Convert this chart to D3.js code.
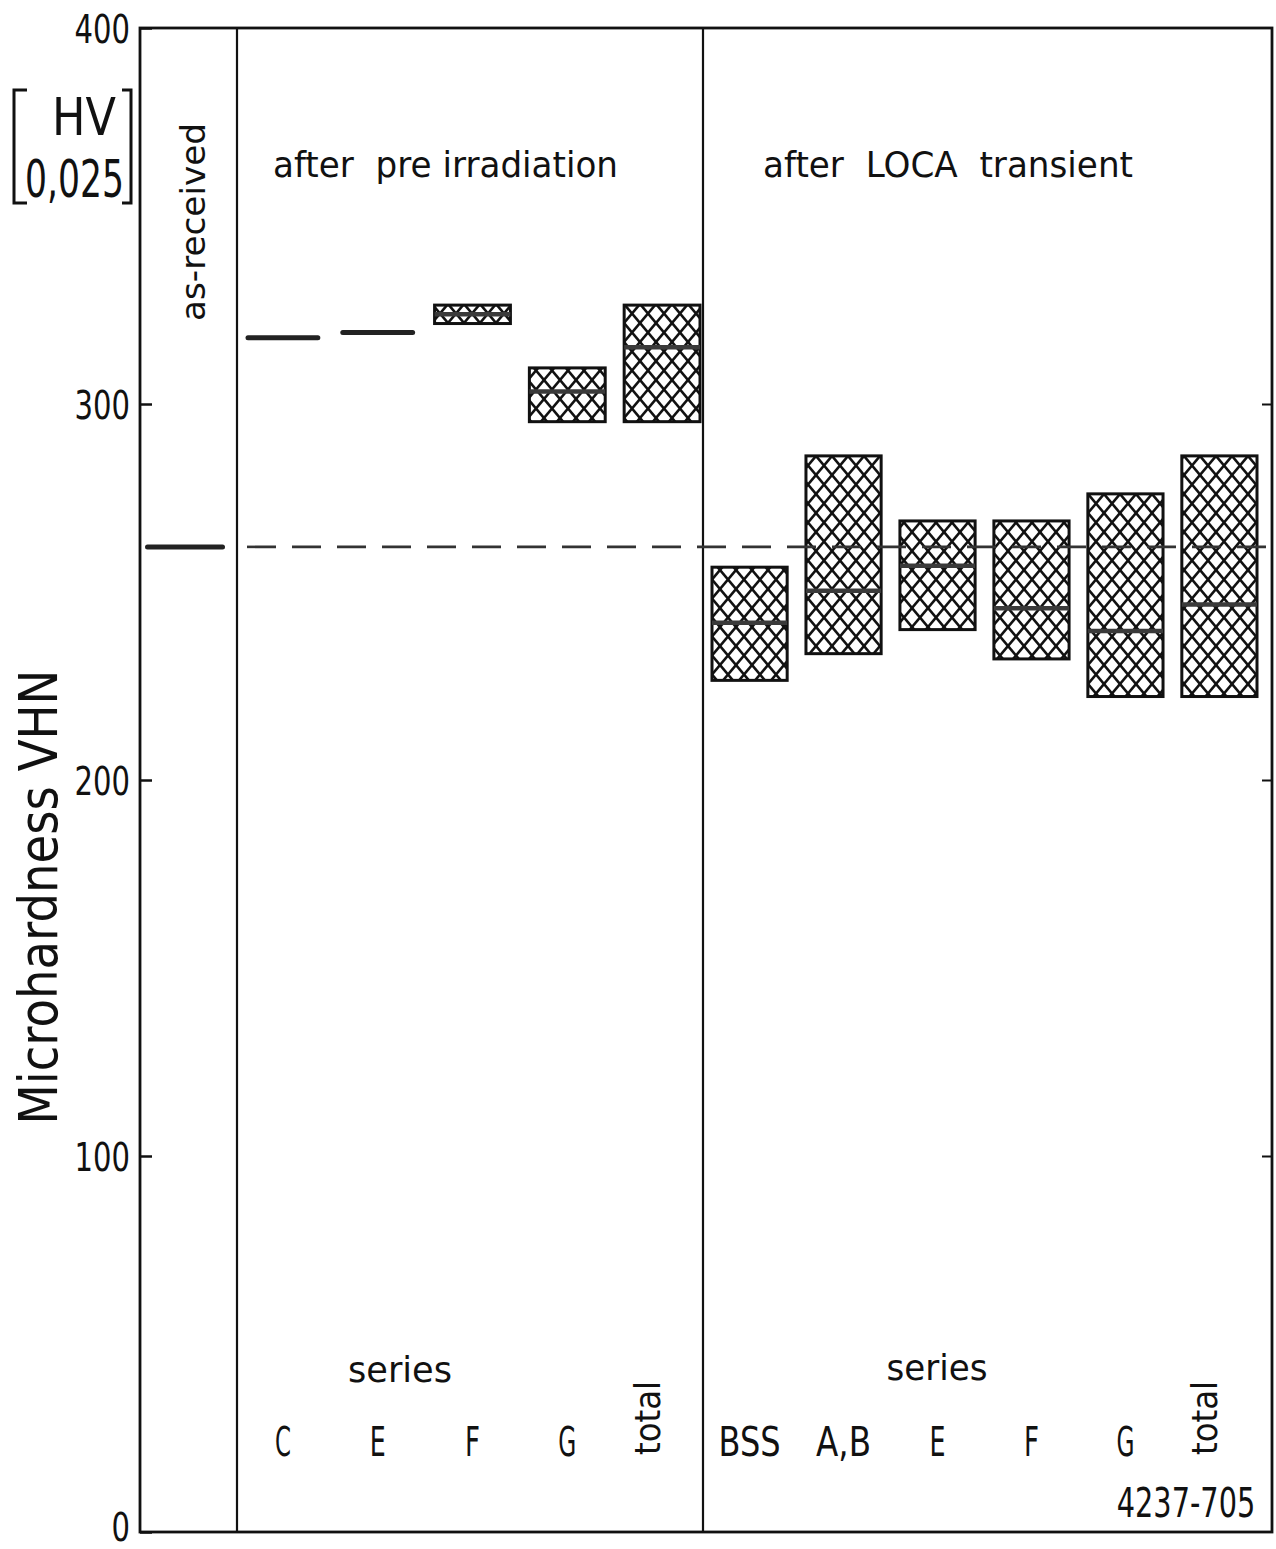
<!DOCTYPE html>
<html>
<head>
<meta charset="utf-8">
<script src="https://cdn.jsdelivr.net/npm/d3@7"></script>
<style>
  html, body { margin: 0; padding: 0; background: #fff; }
  svg text { font-family: "DejaVu Sans", "Liberation Sans", sans-serif; fill: #111; white-space: pre; }
</style>
</head>
<body>
<svg id="chart" width="1276" height="1549"></svg>
<script>
// Microhardness HV 0,025 of cladding: as-received, after pre-irradiation, after LOCA transient
const asReceivedValue = 262;

const preCategories = ["C", "E", "F", "G", "total"];
const preMin  = [317.6, 319.0, 321.4, 295.3, 295.3];
const preMax  = [317.6, 319.0, 326.3, 309.6, 326.3];
const preMean = [317.6, 319.0, 323.9, 303.3, 315.1];

const locaCategories = ["BSS", "A,B", "E", "F", "G", "total"];
const locaMin  = [226.5, 233.6, 240.0, 232.2, 222.2, 222.2];
const locaMax  = [256.6, 286.2, 268.9, 268.9, 276.1, 286.2];
const locaMean = [241.8, 250.3, 257.0, 245.7, 239.6, 246.7];

const yTicks = [0, 100, 200, 300, 400];
const innerTicks = [100, 200, 300];

const svg = d3.select("#chart");

// Frame geometry
const frameL = 140, frameR = 1272, frameT = 28, frameB = 1532;
const div1 = 237, div2 = 703;

const y = d3.scaleLinear().domain([0, 400]).range([frameB, frameT]);

const xAs = d3.scaleBand().domain(["as-received"]).range([140, 230]).paddingOuter(0.1);
const xPre = d3.scaleBand().domain(preCategories).range([245, 700]).paddingInner(0.2).paddingOuter(0);
const xLoca = d3.scaleBand().domain(locaCategories).range([712, 1257]).paddingInner(0.2).paddingOuter(0);

// Crosshatch pattern
const defs = svg.append("defs");
const pw = 16, ph = 19;
const pat = defs.append("pattern")
  .attr("id", "hatch")
  .attr("patternUnits", "userSpaceOnUse")
  .attr("width", pw).attr("height", ph);
pat.append("rect").attr("width", pw).attr("height", ph).attr("fill", "#fff");
[[0, 0, pw, ph], [pw, 0, 0, ph], [-pw, 0, pw, 2 * ph], [pw, -ph, -pw, ph], [0, -ph, 2 * pw, ph], [2 * pw, 0, 0, 2 * ph]]
  .forEach(([x1, y1, x2, y2]) => {
    pat.append("line")
      .attr("x1", x1).attr("y1", y1).attr("x2", x2).attr("y2", y2)
      .attr("stroke", "#111").attr("stroke-width", 2.6);
  });

// Frame and panel dividers
svg.append("rect")
  .attr("x", frameL).attr("y", frameT)
  .attr("width", frameR - frameL).attr("height", frameB - frameT)
  .attr("fill", "none").attr("stroke", "#111").attr("stroke-width", 2.8);
[div1, div2].forEach(xv => {
  svg.append("line")
    .attr("x1", xv).attr("x2", xv).attr("y1", frameT).attr("y2", frameB)
    .attr("stroke", "#111").attr("stroke-width", 2.2);
});

// Left axis: inward ticks, labels outside
const yAxisL = svg.append("g")
  .attr("transform", `translate(${frameL},0)`)
  .call(d3.axisLeft(y).tickValues(yTicks).tickSize(-12).tickPadding(10).tickFormat(d3.format("d")));
yAxisL.select(".domain").remove();
yAxisL.selectAll(".tick line").attr("stroke", "#111").attr("stroke-width", 2.5);
yAxisL.selectAll(".tick text")
  .attr("font-size", 39)
  .attr("font-family", "DejaVu Sans")
  .attr("fill", "#111")
  .attr("dy", d => d === 0 ? "0.22em" : "0.36em")
  .attr("textLength", d => String(d).length * 18.5)
  .attr("lengthAdjust", "spacingAndGlyphs");

// Right axis: inward ticks only
const yAxisR = svg.append("g")
  .attr("transform", `translate(${frameR},0)`)
  .call(d3.axisRight(y).tickValues(innerTicks).tickSize(-10).tickFormat(""));
yAxisR.select(".domain").remove();
yAxisR.selectAll(".tick line").attr("stroke", "#111").attr("stroke-width", 2);

// Boxes for a panel
function drawPanel(cats, mins, maxs, means, x) {
  const g = svg.append("g");
  cats.forEach((c, i) => {
    const x0 = x(c), w = x.bandwidth();
    if (maxs[i] - mins[i] < 0.5) {
      g.append("line")
        .attr("x1", x0 + 3).attr("x2", x0 + w - 3)
        .attr("y1", y(means[i])).attr("y2", y(means[i]))
        .attr("stroke", "#222").attr("stroke-width", 5)
        .attr("stroke-linecap", "round");
      return;
    }
    g.append("rect")
      .attr("x", x0).attr("y", y(maxs[i]))
      .attr("width", w).attr("height", y(mins[i]) - y(maxs[i]))
      .attr("fill", "url(#hatch)")
      .attr("stroke", "#111").attr("stroke-width", 3);
    g.append("line")
      .attr("x1", x0).attr("x2", x0 + w)
      .attr("y1", y(means[i])).attr("y2", y(means[i]))
      .attr("stroke", "#3a3a3a").attr("stroke-width", 4.5);
  });
}
drawPanel(preCategories, preMin, preMax, preMean, xPre);
drawPanel(locaCategories, locaMin, locaMax, locaMean, xLoca);

// As-received reference level
svg.append("line")
  .attr("x1", xAs("as-received")).attr("x2", xAs("as-received") + xAs.bandwidth())
  .attr("y1", y(asReceivedValue)).attr("y2", y(asReceivedValue))
  .attr("stroke", "#222").attr("stroke-width", 5).attr("stroke-linecap", "round");
svg.append("line")
  .attr("x1", 247).attr("x2", frameR)
  .attr("y1", y(asReceivedValue)).attr("y2", y(asReceivedValue))
  .attr("stroke", "#333").attr("stroke-width", 2.6)
  .attr("stroke-dasharray", "29,16");

// Text helper
function label(text, xv, yv, size, len, opts = {}) {
  const t = svg.append("text")
    .attr("x", xv).attr("y", yv)
    .attr("font-size", size)
    .attr("text-anchor", opts.anchor || "start")
    .text(text);
  if (len) t.attr("textLength", len).attr("lengthAdjust", "spacingAndGlyphs");
  if (opts.rotate) t.attr("transform", `rotate(-90,${xv},${yv})`);
  return t;
}

// Axis title and unit
label("Microhardness VHN", 57, 897, 54, 455, { anchor: "middle", rotate: true });
label("HV", 52, 135, 52, 64);
label("0,025", 25, 197, 52, 99);
svg.append("path")
  .attr("d", "M27,90 H14 V203 H27 M122,90 H131 V203 H122")
  .attr("fill", "none").attr("stroke", "#111").attr("stroke-width", 3);

// Panel titles
label("as-received", 205, 222, 34, 198, { anchor: "middle", rotate: true });
label("after  pre irradiation", 273, 177, 35, 345);
label("after  LOCA  transient", 763, 177, 35, 370);

// Category labels
label("series", 400, 1382, 36, 104, { anchor: "middle" });
label("series", 937, 1380, 36, 101, { anchor: "middle" });

const catWidth = { "C": 16, "E": 16, "F": 15, "G": 18, "BSS": 62, "A,B": 55 };
function catLabels(cats, x) {
  cats.forEach(c => {
    const cx = x(c) + x.bandwidth() / 2;
    if (c === "total") {
      label(c, cx - 2, 1418, 36, 74, { anchor: "middle", rotate: true });
    } else {
      label(c, cx, 1456, 40, catWidth[c], { anchor: "middle" });
    }
  });
}
catLabels(preCategories, xPre);
catLabels(locaCategories, xLoca);

// Drawing number, lower right (narrow lettering)
svg.append("g")
  .attr("transform", "translate(1186,1517) scale(0.72,1)")
  .append("text")
  .attr("x", 0).attr("y", 0)
  .attr("font-size", 40)
  .attr("text-anchor", "middle")
  .text("4237-705");
</script>
</body>
</html>
